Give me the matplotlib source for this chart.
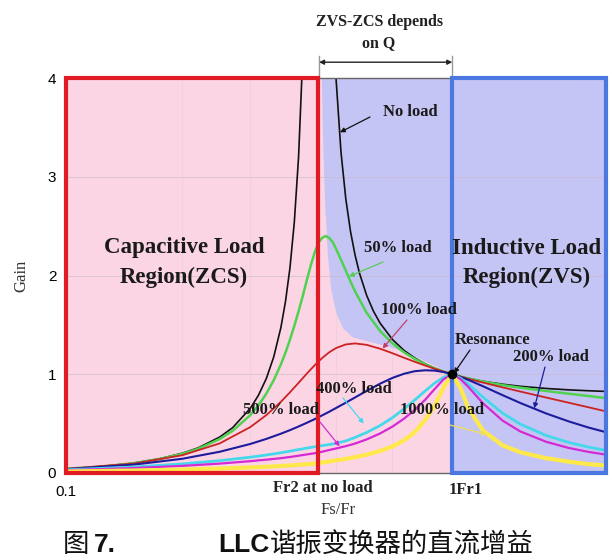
import numpy as np
import matplotlib
matplotlib.use("Agg")
import matplotlib.pyplot as plt
from matplotlib.patches import Rectangle

W, H = 612, 560

# normalised switching frequency Fs/Fr (shared by the heavier-load curves)
fn = [0.1, 0.15, 0.2, 0.25, 0.3, 0.33, 0.36, 0.38, 0.4, 0.42,
      0.44, 0.46, 0.48, 0.5, 0.53, 0.56, 0.6, 0.65, 0.7, 0.75,
      0.8, 0.85, 0.9, 0.95, 1.0, 1.05, 1.1, 1.2, 1.35, 1.5,
      1.75, 2.0, 2.25, 2.5]

# no load and 50% load are steep near Fr2, so they were read at more points
fn_no_load = [0.1, 0.125, 0.15, 0.175, 0.2, 0.22, 0.25, 0.27, 0.3, 0.315,
              0.33, 0.345, 0.36, 0.37, 0.38, 0.39, 0.4, 0.41, 0.42, 0.44,
              0.48, 0.49, 0.5, 0.515, 0.53, 0.545, 0.56, 0.575, 0.6, 0.625,
              0.65, 0.7, 0.75, 0.8, 0.85, 0.9, 0.95, 1.0, 1.05, 1.1,
              1.2, 1.35, 1.5, 1.75, 2.0, 2.25, 2.5]
no_load = [0.042, 0.0678, 0.101, 0.145, 0.2, 0.255, 0.364, 0.459, 0.655, 0.788,
           0.956, 1.176, 1.473, 1.736, 2.078, 2.540, 3.2, 4.216, 5.98, np.nan,
           6.06, 4.79, 4.0, 3.253, 2.778, 2.449, 2.209, 2.025, 1.8, 1.639,
           1.519, 1.352, 1.241, 1.164, 1.106, 1.062, 1.028, 1.0, 0.977, 0.958,
           0.929, 0.899, 0.878, 0.856, 0.842, 0.833, 0.826]

fn_50 = [0.1, 0.125, 0.15, 0.175, 0.2, 0.22, 0.25, 0.27, 0.3, 0.315,
         0.33, 0.345, 0.36, 0.37, 0.38, 0.39, 0.4, 0.41, 0.42, 0.43,
         0.44, 0.45, 0.46, 0.47, 0.48, 0.49, 0.5, 0.515, 0.53, 0.545,
         0.56, 0.6, 0.65, 0.7, 0.75, 0.8, 0.85, 0.9, 0.95, 1.0,
         1.05, 1.1, 1.2, 1.35, 1.5, 1.75, 2.0, 2.25, 2.5]
load_50 = [0.042, 0.0672, 0.100, 0.142, 0.194, 0.246, 0.344, 0.427, 0.586, 0.686,
           0.803, 0.940, 1.100, 1.220, 1.350, 1.490, 1.637, 1.79, 1.95, 2.10,
           2.23, 2.33, 2.38, 2.40, 2.38, 2.34, 2.27, 2.16, 2.05, 1.94,
           1.84, 1.623, 1.439, 1.313, 1.222, 1.154, 1.102, 1.061, 1.027, 1.0,
           0.977, 0.957, 0.926, 0.890, 0.864, 0.830, 0.803, 0.780, 0.758]

load_100 = [0.041, 0.096, 0.180, 0.300, 0.465, 0.586, 0.721, 0.817, 0.913, 1.006,
            1.090, 1.163, 1.222, 1.265, 1.302, 1.312, 1.298, 1.259, 1.213, 1.167,
            1.126, 1.089, 1.056, 1.026, 1.0, 0.976, 0.954, 0.916, 0.867, 0.825,
            0.764, 0.712, 0.666, 0.624]
load_200 = [0.039, 0.085, 0.144, 0.215, 0.294, 0.345, 0.398, 0.434, 0.471, 0.508,
            0.545, 0.583, 0.620, 0.658, 0.712, 0.765, 0.831, 0.904, 0.963, 1.005,
            1.031, 1.040, 1.037, 1.022, 1.0, 0.973, 0.943, 0.879, 0.788, 0.709,
            0.603, 0.523, 0.461, 0.413]
load_400 = [0.032, 0.061, 0.092, 0.125, 0.160, 0.182, 0.205, 0.221, 0.237, 0.252,
            0.265, 0.277, 0.288, 0.30, 0.325, 0.36, 0.41, 0.48, 0.56, 0.65,
            0.74, 0.83, 0.91, 0.97, 1.0, 0.960, 0.900, 0.768, 0.606, 0.495,
            0.380, 0.310, 0.263, 0.229]
load_500 = [0.028, 0.05, 0.072, 0.095, 0.12, 0.135, 0.15, 0.162, 0.175, 0.188,
            0.2, 0.215, 0.233, 0.248, 0.272, 0.298, 0.34, 0.40, 0.47, 0.55,
            0.64, 0.74, 0.85, 0.95, 1.0, 0.951, 0.872, 0.707, 0.530, 0.421,
            0.316, 0.254, 0.214, 0.186]
load_1000 = [0.015, 0.025, 0.035, 0.045, 0.056, 0.063, 0.071, 0.077, 0.083, 0.089,
             0.095, 0.105, 0.117, 0.128, 0.143, 0.16, 0.186, 0.223, 0.269, 0.33,
             0.415, 0.536, 0.68, 0.87, 1.0, 0.86, 0.66, 0.43, 0.28, 0.21,
             0.15, 0.115, 0.09, 0.075]

# edge of the ZVS area between Fr2 and Fr1
zvs_fn = [0.458, 0.462, 0.467, 0.475, 0.485, 0.5, 0.52, 0.55, 0.6, 0.7, 0.8, 0.9, 1.0]
zvs_gain = [4.0, 3.3, 2.76, 2.2, 1.85, 1.62, 1.47, 1.38, 1.34, 1.27, 1.18, 1.09, 1.0]

fr2 = 0.448
fr1 = 1.0
x_min, x_max = 0.1, 2.5
y_max = 4

curves = [
    (fn_no_load, no_load, "#111111", 1.2),
    (fn_50, load_50, "#4fd24f", 1.8),
    (fn, load_100, "#cc2222", 1.3),
    (fn, load_200, "#1c1c9c", 1.5),
    (fn, load_400, "#44d8ea", 2.0),
    (fn, load_500, "#d42ad4", 1.6),
    (fn, load_1000, "#ffe84a", 3.0),
]

PINK = "#fcd5e5"
LAVENDER = "#c5c5f5"
SERIF = ["Liberation Serif", "DejaVu Serif"]
SANS = ["Liberation Sans", "DejaVu Sans"]


def fxy(px, py):
    # pixel position in the 612x560 picture -> figure fraction
    return px / W, 1 - py / H


fig = plt.figure(figsize=(W / 100, H / 100), dpi=100)
ax = fig.add_axes([66 / W, 1 - 473 / H, 540 / W, 395 / H])
ax.set_xscale("log")
ax.set_xlim(x_min, x_max)
ax.set_ylim(0, y_max)

# background regions
ax.axvspan(x_min, fr1, color=PINK, zorder=0, lw=0)
ax.axvspan(fr1, x_max, color=LAVENDER, zorder=0, lw=0)
ax.fill_between(zvs_fn, zvs_gain, y_max, color=LAVENDER, lw=0, zorder=0.2)

# faint grid
for g in [1, 2, 3]:
    ax.axhline(g, color="#c9b9c4", lw=0.6, alpha=0.7, zorder=0.5)
for g in [0.2, 0.3, 0.5, 0.7, 2.0]:
    ax.axvline(g, color="#d9c9d4", lw=0.5, alpha=0.5, zorder=0.5)

for xs, vals, col, lw in curves:
    ax.plot(xs, vals, color=col, lw=lw, zorder=2, solid_capstyle="round",
            solid_joinstyle="round")

ax.plot([fr1], [1.0], "o", color="black", ms=6, zorder=5)

# region boxes
ax.add_patch(Rectangle((x_min, 0), fr2 - x_min, y_max, fill=False,
                       edgecolor="#e01b24", lw=3, zorder=3, clip_on=False))
ax.add_patch(Rectangle((fr1, 0), x_max - fr1, y_max, fill=False,
                       edgecolor="#4a78e0", lw=3, zorder=3, clip_on=False))

for s in ax.spines.values():
    s.set_color("#666666")
    s.set_linewidth(1)

ax.set_yticks([0, 1, 2, 3, 4])
ax.set_yticklabels(["0", "1", "2", "3", "4"], family=SANS, fontsize=11)
ax.set_xticks([0.1])
ax.set_xticklabels(["0.1"], family=SANS, fontsize=11)
ax.xaxis.set_minor_locator(matplotlib.ticker.NullLocator())
ax.tick_params(length=0, pad=7)
ax.tick_params(axis="x", pad=9)

# ZVS-ZCS arrow above the plot
tr = ax.get_xaxis_transform()
for xv in [0.452, fr1]:
    ax.plot([xv, xv], [1.0, 1.055], color="#999999", lw=1, transform=tr, clip_on=False)
ax.annotate("", xy=(fr1, 1.04), xytext=(0.452, 1.04), xycoords=tr, textcoords=tr,
            arrowprops=dict(arrowstyle="<|-|>", color="#222222", lw=1,
                            mutation_scale=7, shrinkA=0, shrinkB=0))
fig.text(*fxy(379, 22), "ZVS-ZCS depends", family=SERIF, weight="bold",
         fontsize=11.5, ha="center", va="center", color="#222222")
fig.text(*fxy(379, 43), "on Q", family=SERIF, weight="bold",
         fontsize=11.5, ha="center", va="center", color="#222222")

# big region labels
for px, py, s in [(184, 248, "Capacitive Load"), (184, 277, "Region(ZCS)"),
                  (527, 248, "Inductive Load"), (527, 277, "Region(ZVS)")]:
    fig.text(*fxy(px, py), s, family=SERIF, weight="bold", fontsize=16.5,
             ha="center", va="center", color="#1a1a1a", zorder=6)

# curve labels: text pixel position, arrow tip (data), arrow start pixel, colour
labels = [
    ("No load", (410, 112), (0.512, 3.45), (370, 117), "#111111"),
    ("50% load", (398, 248), (0.54, 1.99), (383, 262), "#55cc55"),
    ("100% load", (419, 310), (0.66, 1.26), (407, 320), "#c0406a"),
    ("Resonance", (493, 340), (1.01, 1.01), (470, 350), "#111111"),
    ("200% load", (551, 357), (1.63, 0.655), (545, 367), "#1c1c9c"),
    ("400% load", (354, 389), (0.59, 0.50), (343, 398), "#44d8ea"),
    ("500% load", (281, 410), (0.511, 0.27), (320, 422), "#d42ad4"),
    ("1000% load", (442, 410), (1.233, 0.39), (450, 425), "#f0e050"),
]
for s, (tx, ty), tip, (sx, sy), col in labels:
    fig.text(*fxy(tx, ty), s, family=SERIF, weight="bold", fontsize=12,
             ha="center", va="center", color="#1a1a1a", zorder=6)
    ax.annotate("", xy=tip, xycoords="data", xytext=fxy(sx, sy),
                textcoords="figure fraction",
                arrowprops=dict(arrowstyle="-|>", color=col, lw=0.9,
                                mutation_scale=7, shrinkA=0, shrinkB=0),
                zorder=6)

fig.text(*fxy(323, 488), "Fr2 at no load", family=SERIF, weight="bold",
         fontsize=12, ha="center", va="center", color="#222222")
fig.text(*fxy(466, 490), "1Fr1", family=SERIF, weight="bold",
         fontsize=12, ha="center", va="center", color="#222222")
fig.text(*fxy(338, 510), "Fs/Fr", family=SERIF, fontsize=12,
         ha="center", va="center", color="#333333")
fig.text(*fxy(21, 276), "Gain", family=SERIF, fontsize=12, rotation=90,
         ha="center", va="center", color="#333333")

# caption
cap_y = 545
fig.text(*fxy(63, cap_y), "图", family=["Noto Sans CJK SC"], fontsize=19,
         ha="left", va="center", color="#111111")
fig.text(*fxy(94, cap_y), "7.", family=SANS, weight="bold", fontsize=19,
         ha="left", va="center", color="#111111")
fig.text(*fxy(270, cap_y), "LLC", family=SANS, weight="bold", fontsize=19,
         ha="right", va="center", color="#111111")
fig.text(*fxy(270, cap_y), "谐振变换器的直流增益", family=["Noto Sans CJK SC"],
         fontsize=19, ha="left", va="center", color="#111111")

fig.savefig("out.png", dpi=100)
